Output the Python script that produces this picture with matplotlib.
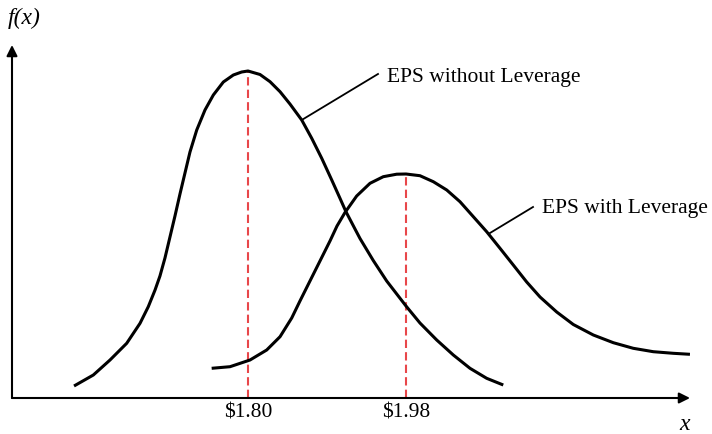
import matplotlib
matplotlib.use("Agg")
import matplotlib.pyplot as plt

# ---- data (x in $ EPS, y = relative density f(x)) ----
eps_without_x = [1.6018, 1.6238, 1.6428, 1.6618, 1.6770, 1.6864, 1.6941, 1.6997,
                 1.7054, 1.7111, 1.7168, 1.7225, 1.7282, 1.7339, 1.7416, 1.7510,
                 1.7605, 1.7719, 1.7833, 1.7928, 1.8000, 1.8137, 1.8251, 1.8365,
                 1.8478, 1.8612, 1.8726, 1.8840, 1.8954, 1.9048, 1.9116, 1.9219,
                 1.9276, 1.9427, 1.9580, 1.9800, 1.9959, 2.0150, 2.0339, 2.0529,
                 2.0719, 2.0908]
eps_without_y = [0.12, 0.23, 0.38, 0.547, 0.747, 0.913, 1.08, 1.22,
                 1.40, 1.61, 1.82, 2.04, 2.25, 2.46, 2.68, 2.88,
                 3.03, 3.16, 3.23, 3.26, 3.27, 3.235, 3.163, 3.063,
                 2.94, 2.78, 2.597, 2.397, 2.18, 1.997, 1.863, 1.69,
                 1.595, 1.375, 1.17, 0.92, 0.75, 0.58, 0.43, 0.297,
                 0.197, 0.13]

eps_with_x = [1.7586, 1.7795, 1.8023, 1.8213, 1.8365, 1.8498, 1.8592, 1.8706,
              1.8820, 1.8934, 1.9014, 1.9105, 1.9238, 1.9390, 1.9541, 1.9694,
              1.9800, 1.9959, 2.0111, 2.0264, 2.0415, 2.0567, 2.0719, 2.0871,
              2.1022, 2.1175, 2.1327, 2.1517, 2.1706, 2.1934, 2.2162, 2.2389,
              2.2617, 2.2845, 2.3035]
eps_with_y = [0.297, 0.313, 0.38, 0.48, 0.613, 0.80, 0.97, 1.17,
              1.37, 1.57, 1.72, 1.855, 2.02, 2.147, 2.213, 2.238,
              2.24, 2.223, 2.163, 2.08, 1.963, 1.813, 1.663, 1.497,
              1.33, 1.16, 1.01, 0.86, 0.735, 0.63, 0.553, 0.497,
              0.463, 0.447, 0.437]

mean_ticks = [1.80, 1.98]
mean_labels = ["$1.80", "$1.98"]
mean_heights = [3.27, 2.24]

plt.rcParams['font.family'] = ['Liberation Serif', 'DejaVu Serif']

fig = plt.figure(figsize=(7.12, 4.34), dpi=100)
ax = fig.add_axes([12/712, 36/434, 678/712, 353/434])
k = 0.18 / 158
ax.set_xlim(1.80 - 236*k, 1.80 + 442*k)
ax.set_ylim(0, 3.53)

for s in ax.spines.values():
    s.set_visible(False)

ax.plot(eps_without_x, eps_without_y, color='black', lw=2.2,
        solid_joinstyle='round', solid_capstyle='butt')
ax.plot(eps_with_x, eps_with_y, color='black', lw=2.2,
        solid_joinstyle='round', solid_capstyle='butt')

for xm, hm in zip(mean_ticks, mean_heights):
    ax.plot([xm, xm], [0, hm], color='#e8474a', lw=1.5, dashes=(4, 2), zorder=1)

# axes with arrows
ax.annotate('', xy=(1.0, 0), xytext=(0, 0), xycoords='axes fraction',
            arrowprops=dict(arrowstyle='-|>', mutation_scale=16, lw=1.5, color='black',
                            shrinkA=0, shrinkB=0), annotation_clip=False)
ax.annotate('', xy=(0, 1.0), xytext=(0, 0), xycoords='axes fraction',
            arrowprops=dict(arrowstyle='-|>', mutation_scale=16, lw=1.5, color='black',
                            shrinkA=0, shrinkB=0), annotation_clip=False)

ax.set_xticks(mean_ticks, mean_labels)
ax.set_yticks([])
ax.tick_params(axis='x', length=0, pad=4, labelsize=15.5)

# leader lines and labels
ax.plot([1.8612, 1.9481], [2.78, 3.24], color='black', lw=1.3)
ax.text(1.9584, 3.16, 'EPS without Leverage', fontsize=15.5, ha='left', va='baseline')
ax.plot([2.0757, 2.1247], [1.65, 1.91], color='black', lw=1.3)
ax.text(2.1349, 1.85, 'EPS with Leverage', fontsize=15.5, ha='left', va='baseline')

fig.text(24/712, 1 - 18/434, 'f(x)', fontsize=17, style='italic', ha='center', va='center')
fig.text(685/712, 1 - 425/434, 'x', fontsize=17, style='italic', ha='center', va='center')

fig.savefig('out.png', dpi=100)
